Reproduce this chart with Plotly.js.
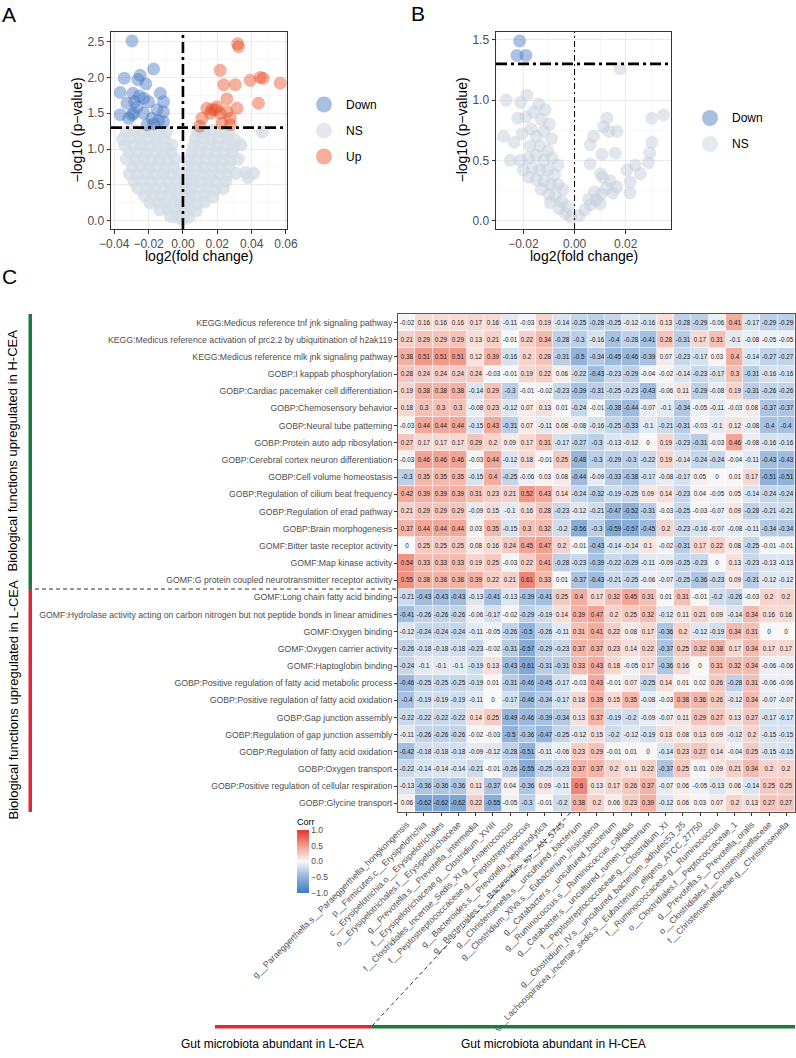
<!DOCTYPE html>
<html><head><meta charset="utf-8">
<script src="https://cdn.plot.ly/plotly-3.0.1.min.js"></script>
<style>html,body{margin:0;padding:0;background:#fff}#chart{width:796px;height:1058px}</style>
</head><body><div id="chart"></div>
<script>
// ---------------- DATA ----------------
// Panel A volcano
const aDownPts = [[-0.0297,2.51],[-0.0171,2.12],[-0.0249,2.03],[-0.0262,1.97],[-0.0342,1.99],[-0.0216,1.91],
 [-0.0365,1.79],[-0.0291,1.78],[-0.0132,1.78],[-0.0229,1.71],[-0.0255,1.74],[-0.0282,1.66],[-0.0326,1.64],
 [-0.0200,1.66],[-0.0113,1.66],[-0.0265,1.59],[-0.0151,1.55],[-0.0113,1.52],[-0.0365,1.48],[-0.0297,1.48],
 [-0.0287,1.50],[-0.0229,1.50],[-0.0316,1.43],[-0.0180,1.43],[-0.0141,1.40],[-0.0113,1.38],[-0.0209,1.34],[-0.0170,1.35]];
const aUpPts = [[0.0318,2.47],[0.0324,2.43],[0.0217,2.10],[0.0237,1.90],[0.0305,1.90],[0.0392,1.96],[0.0450,2.00],
 [0.0467,1.99],[0.0567,1.92],[0.0256,1.70],[0.0440,1.64],[0.0315,1.57],[0.0140,1.57],[0.0169,1.55],[0.0188,1.55],
 [0.0198,1.59],[0.0217,1.50],[0.0256,1.52],[0.0276,1.43],[0.0111,1.43],[0.0227,1.36],[0.0276,1.34],[0.0097,1.32],[0.0159,1.50]];
const aNsPts = [
 [-0.0330,1.24],[-0.0282,1.26],[-0.0232,1.23],[-0.0185,1.25],[-0.0138,1.22],[-0.0098,1.24],
 [-0.0352,1.14],[-0.0305,1.16],[-0.0255,1.13],[-0.0205,1.15],[-0.0155,1.12],[-0.0108,1.15],
 [-0.0338,1.05],[-0.0290,1.04],[-0.0240,1.06],[-0.0192,1.03],[-0.0145,1.05],[-0.0098,1.02],[-0.0065,1.06],
 [-0.0312,0.95],[-0.0262,0.96],[-0.0215,0.94],[-0.0165,0.96],[-0.0118,0.93],[-0.0070,0.95],
 [-0.0330,0.86],[-0.0280,0.84],[-0.0232,0.86],[-0.0182,0.83],[-0.0135,0.85],[-0.0088,0.84],[-0.0045,0.86],
 [-0.0295,0.75],[-0.0245,0.76],[-0.0195,0.74],[-0.0148,0.76],[-0.0100,0.73],[-0.0055,0.75],
 [-0.0312,0.65],[-0.0262,0.64],[-0.0212,0.66],[-0.0165,0.63],[-0.0115,0.65],[-0.0068,0.64],[-0.0025,0.66],
 [-0.0285,0.55],[-0.0235,0.56],[-0.0185,0.54],[-0.0135,0.56],[-0.0088,0.53],[-0.0040,0.55],
 [-0.0262,0.45],[-0.0212,0.46],[-0.0162,0.44],[-0.0115,0.46],[-0.0068,0.43],[-0.0025,0.45],
 [-0.0225,0.35],[-0.0175,0.36],[-0.0128,0.34],[-0.0080,0.36],[-0.0035,0.33],
 [-0.0192,0.25],[-0.0145,0.26],[-0.0098,0.24],[-0.0052,0.26],[-0.0015,0.23],
 [-0.0135,0.15],[-0.0088,0.16],[-0.0045,0.14],[-0.0012,0.16],
 [-0.0072,0.06],[-0.0035,0.05],[-0.0008,0.07],[-0.0004,0.01],
 [0.0085,1.25],[0.0125,1.23],[0.0172,1.26],[0.0220,1.24],[0.0268,1.22],
 [0.0072,1.14],[0.0112,1.16],[0.0160,1.13],[0.0208,1.15],[0.0258,1.14],[0.0305,1.12],
 [0.0062,1.05],[0.0102,1.03],[0.0150,1.06],[0.0198,1.04],[0.0248,1.05],[0.0295,1.03],[0.0338,1.06],
 [0.0052,0.95],[0.0092,0.96],[0.0140,0.94],[0.0190,0.96],[0.0240,0.93],[0.0288,0.95],
 [0.0042,0.85],[0.0082,0.84],[0.0130,0.86],[0.0180,0.83],[0.0230,0.85],[0.0278,0.84],[0.0322,0.86],
 [0.0032,0.75],[0.0072,0.76],[0.0120,0.74],[0.0170,0.76],[0.0220,0.73],[0.0268,0.75],
 [0.0025,0.65],[0.0062,0.64],[0.0110,0.66],[0.0160,0.63],[0.0210,0.65],[0.0258,0.64],[0.0308,0.66],[0.0365,0.67],[0.0412,0.66],
 [0.0020,0.55],[0.0058,0.56],[0.0102,0.54],[0.0150,0.56],[0.0198,0.53],[0.0248,0.55],[0.0378,0.60],
 [0.0015,0.45],[0.0050,0.46],[0.0092,0.44],[0.0140,0.46],[0.0188,0.43],[0.0235,0.45],
 [0.0012,0.35],[0.0042,0.36],[0.0082,0.34],[0.0128,0.36],[0.0175,0.33],
 [0.0010,0.25],[0.0040,0.26],[0.0080,0.24],[0.0125,0.26],
 [0.0008,0.15],[0.0038,0.16],[0.0078,0.14],
 [0.0006,0.06],[0.0035,0.05],[0.0462,1.24]];
// Panel B volcano
const bDownPts = [[-0.0215,1.49],[-0.0225,1.37],[-0.0190,1.37]];
const bNsPts = [
 [-0.0267,1.00],[-0.0186,1.04],[-0.0210,0.98],[-0.0141,0.97],[-0.0115,0.92],[-0.0160,0.90],[-0.0222,0.85],[-0.0190,0.86],[-0.0130,0.84],[-0.0098,0.80],
 [-0.0277,0.70],[-0.0236,0.65],[-0.0205,0.72],[-0.0170,0.76],[-0.0150,0.70],[-0.0120,0.74],[-0.0090,0.68],[-0.0175,0.62],[-0.0135,0.62],[-0.0105,0.58],
 [-0.0251,0.50],[-0.0212,0.50],[-0.0180,0.52],[-0.0150,0.54],[-0.0120,0.50],[-0.0088,0.52],[-0.0065,0.46],[-0.0200,0.42],[-0.0165,0.44],[-0.0135,0.42],[-0.0105,0.42],[-0.0078,0.38],
 [-0.0180,0.36],[-0.0150,0.34],[-0.0120,0.33],[-0.0092,0.30],[-0.0065,0.30],[-0.0045,0.26],[-0.0130,0.26],[-0.0100,0.22],[-0.0075,0.20],[-0.0050,0.16],[-0.0028,0.12],[-0.0095,0.15],[-0.0060,0.10],[-0.0035,0.06],[-0.0015,0.03],
 [0.0018,0.04],[0.0040,0.09],[0.0062,0.13],[0.0085,0.17],[0.0105,0.22],[0.0125,0.27],[0.0140,0.33],[0.0110,0.36],[0.0078,0.24],[0.0055,0.18],[0.0150,0.23],[0.0165,0.28],[0.0100,0.14],
 [0.0061,0.47],[0.0102,0.39],[0.0107,0.55],[0.0061,0.63],[0.0074,0.70],[0.0113,0.78],[0.0127,0.85],[0.0134,0.74],[0.0166,0.74],[0.0159,0.56],[0.0178,1.26],
 [0.0205,0.42],[0.0217,0.32],[0.0217,0.23],[0.0237,0.46],[0.0257,0.39],[0.0289,0.48],[0.0294,0.56],[0.0302,0.65],[0.0302,0.85],[0.0348,0.876]];

// Panel C heatmap
const rowLabels = [
 'KEGG:Medicus reference tnf jnk signaling pathway',
 'KEGG:Medicus reference activation of prc2.2 by ubiquitination of h2ak119',
 'KEGG:Medicus reference mlk jnk signaling pathway',
 'GOBP:I kappab phosphorylation',
 'GOBP:Cardiac pacemaker cell differentiation',
 'GOBP:Chemosensory behavior',
 'GOBP:Neural tube patterning',
 'GOBP:Protein auto adp ribosylation',
 'GOBP:Cerebral cortex neuron differentiation',
 'GOBP:Cell volume homeostasis',
 'GOBP:Regulation of cilium beat frequency',
 'GOBP:Regulation of erad pathway',
 'GOBP:Brain morphogenesis',
 'GOMF:Bitter taste receptor activity',
 'GOMF:Map kinase activity',
 'GOMF:G protein coupled neurotransmitter receptor activity',
 'GOMF:Long chain fatty acid binding',
 'GOMF:Hydrolase activity acting on carbon nitrogen but not peptide bonds in linear amidines',
 'GOMF:Oxygen binding',
 'GOMF:Oxygen carrier activity',
 'GOMF:Haptoglobin binding',
 'GOBP:Positive regulation of fatty acid metabolic process',
 'GOBP:Positive regulation of fatty acid oxidation',
 'GOBP:Gap junction assembly',
 'GOBP:Regulation of gap junction assembly',
 'GOBP:Regulation of fatty acid oxidation',
 'GOBP:Oxygen transport',
 'GOBP:Positive regulation of cellular respiration',
 'GOBP:Glycine transport'];
const colLabels = [
 'g__Paraeggerthella.s__Paraeggerthella_hongkongensis',
 'p__Firmicutes.c__Erysipelotrichia',
 'c__Erysipelotrichia.o__Erysipelotrichales',
 'o__Erysipelotrichales.f__Erysipelotrichaceae',
 'g__Prevotella.s__Prevotella_intermedia',
 'f__Erysipelotrichaceae.g__Clostridium_XVIII',
 'f__Clostridiales_Incertae_Sedis_XI.g__Anaerococcus',
 'f__Peptostreptococcaceae.g__Peptostreptococcus',
 'g__Bacteroides.s__Prevotella_heparinolytica',
 'g__Bacteroides.s__Bacteroides_sp__AN_5745',
 'g__Christensenella.s__uncultured_bacterium',
 'g__Clostridium_XlVa.s__Eubacterium_fissicatena',
 'g__Catabacter.s__uncultured_bacterium',
 'g__Ruminococcus.s__Ruminococcus_callidus',
 'g__Catabacter.s__uncultured_rumen_bacterium',
 'f__Peptostreptococcaceae.g__Clostridium_XI',
 'g__Clostridium_IV.s__uncultured_bacterium_adhufec53_25',
 'g__Lachnospiracea_incertae_sedis.s__Eubacterium_eligens_ATCC_27750',
 'f__Ruminococcaceae.g__Ruminococcus',
 'o__Clostridiales.f__Peptococcaceae_1',
 'g__Prevotella.s__Prevotella_oralis',
 'o__Clostridiales.f__Christensenellaceae',
 'f__Christensenellaceae.g__Christensenella'];
// correlations, functions upregulated in H-CEA (rows 1-16)
const corrH = [
 [-0.02,0.16,0.16,0.16,0.17,0.16,-0.11,-0.03,0.19,-0.14,-0.25,-0.28,-0.25,-0.12,-0.16,0.13,-0.28,-0.29,-0.06,0.41,-0.17,-0.29,-0.29],
 [0.21,0.29,0.29,0.29,0.13,0.21,-0.01,0.22,0.34,-0.28,-0.3,-0.16,-0.4,-0.28,-0.41,0.28,-0.31,0.17,0.31,-0.1,-0.08,-0.05,-0.05],
 [0.38,0.51,0.51,0.51,0.12,0.39,-0.16,0.2,0.28,-0.31,-0.5,-0.34,-0.45,-0.46,-0.39,0.07,-0.23,-0.17,0.03,0.4,-0.14,-0.27,-0.27],
 [0.28,0.24,0.24,0.24,0.24,-0.03,-0.01,0.19,0.22,0.06,-0.22,-0.43,-0.23,-0.29,-0.04,-0.02,-0.14,-0.23,-0.17,0.3,-0.31,-0.16,-0.16],
 [0.19,0.38,0.38,0.38,-0.14,0.29,-0.3,-0.01,-0.02,-0.23,-0.39,-0.31,-0.25,-0.23,-0.43,-0.06,0.11,-0.29,-0.08,0.19,-0.31,-0.26,-0.26],
 [0.18,0.3,0.3,0.3,-0.08,0.23,-0.12,0.07,0.13,0.01,-0.24,-0.01,-0.38,-0.44,-0.07,-0.1,-0.34,-0.05,-0.11,-0.03,0.08,-0.37,-0.37],
 [-0.03,0.44,0.44,0.44,-0.15,0.43,-0.31,0.07,-0.11,0.08,-0.08,-0.16,-0.25,-0.33,-0.1,-0.21,-0.31,-0.03,-0.1,0.12,-0.08,-0.4,-0.4],
 [0.27,0.17,0.17,0.17,0.29,0.2,0.09,0.17,0.31,-0.17,-0.27,-0.3,-0.13,-0.12,0,0.19,-0.23,-0.31,-0.03,0.46,-0.08,-0.16,-0.16],
 [-0.03,0.46,0.46,0.46,-0.03,0.44,-0.12,0.18,-0.01,0.25,-0.48,-0.3,-0.29,-0.3,-0.22,0.19,-0.14,-0.24,-0.24,-0.04,-0.11,-0.43,-0.43],
 [-0.3,0.35,0.35,0.35,-0.15,0.4,-0.25,-0.06,0.03,0.08,-0.44,-0.09,-0.33,-0.38,-0.17,-0.08,-0.17,0.05,0,0.01,0.17,-0.51,-0.51],
 [0.42,0.39,0.39,0.39,0.31,0.23,0.21,0.52,0.43,0.14,-0.24,-0.32,-0.19,-0.25,0.09,0.14,-0.23,0.04,-0.05,0.05,-0.14,-0.24,-0.24],
 [0.21,0.29,0.29,0.29,-0.09,0.15,-0.1,0.16,0.28,-0.23,-0.12,-0.21,-0.47,-0.52,-0.31,-0.03,-0.25,-0.03,-0.07,0.09,-0.28,-0.21,-0.21],
 [0.37,0.44,0.44,0.44,0.03,0.35,-0.15,0.3,0.32,-0.2,-0.56,-0.3,-0.59,-0.57,-0.45,0.2,-0.23,-0.16,-0.07,-0.08,-0.11,-0.34,-0.34],
 [0,0.25,0.25,0.25,0.08,0.16,0.24,0.45,0.47,0.2,-0.01,-0.43,-0.14,-0.14,0.1,-0.02,-0.31,0.17,0.22,0.08,-0.25,-0.01,-0.01],
 [0.54,0.33,0.33,0.33,0.19,0.25,-0.03,0.22,0.41,-0.28,-0.23,-0.39,-0.22,-0.29,-0.11,-0.09,-0.25,-0.23,0,0.13,-0.23,-0.13,-0.13],
 [0.55,0.38,0.38,0.38,0.39,0.22,0.21,0.61,0.33,0.01,-0.37,-0.43,-0.21,-0.25,-0.06,-0.07,-0.25,-0.36,-0.23,0.09,-0.31,-0.12,-0.12]];
// correlations, functions upregulated in L-CEA (rows 17-29)
const corrL = [
 [-0.21,-0.43,-0.43,-0.43,-0.13,-0.41,-0.13,-0.39,-0.41,0.25,0.4,0.17,0.32,0.45,0.31,0.01,0.31,-0.01,-0.2,-0.26,-0.03,0.2,0.2],
 [-0.41,-0.26,-0.26,-0.26,-0.06,-0.17,-0.02,-0.29,-0.19,0.14,0.39,0.47,0.2,0.25,0.32,-0.12,0.11,0.21,0.09,-0.14,0.34,0.16,0.16],
 [-0.12,-0.24,-0.24,-0.24,-0.11,-0.05,-0.26,-0.5,-0.26,-0.11,0.31,0.41,0.22,0.08,0.17,-0.36,0.2,-0.12,-0.19,0.34,0.31,0,0],
 [-0.26,-0.18,-0.18,-0.18,-0.23,-0.02,-0.31,-0.57,-0.29,-0.23,0.37,0.37,0.23,0.14,0.22,-0.37,0.25,0.32,0.38,0.17,0.34,0.17,0.17],
 [-0.24,-0.1,-0.1,-0.1,-0.19,0.13,-0.43,-0.61,-0.31,-0.31,0.33,0.43,0.18,-0.05,0.17,-0.36,0.16,0,0.31,0.32,0.34,-0.06,-0.06],
 [-0.46,-0.25,-0.25,-0.25,-0.19,0.01,-0.31,-0.46,-0.45,-0.17,-0.03,0.43,-0.01,0.07,-0.25,0.14,0.01,0.02,0.26,-0.28,0.31,-0.06,-0.06],
 [-0.4,-0.19,-0.19,-0.19,-0.11,0,-0.17,-0.46,-0.34,-0.17,0.18,0.39,0.15,0.35,-0.08,-0.03,0.38,0.36,0.26,-0.12,0.34,-0.07,-0.07],
 [-0.22,-0.22,-0.22,-0.22,0.14,0.25,-0.49,-0.46,-0.39,-0.34,0.13,0.37,-0.19,-0.2,-0.09,-0.07,0.11,0.29,0.27,0.13,0.27,-0.17,-0.17],
 [-0.11,-0.26,-0.26,-0.26,-0.02,-0.03,-0.5,-0.36,-0.47,-0.25,-0.12,0.15,-0.2,-0.12,-0.19,0.13,0.08,0.13,0.09,-0.12,0.2,-0.15,-0.15],
 [-0.42,-0.18,-0.18,-0.18,-0.09,-0.12,-0.28,-0.51,-0.11,-0.06,0.23,0.29,-0.01,0.01,0,-0.14,0.23,0.27,0.14,-0.04,0.25,-0.15,-0.15],
 [-0.22,-0.14,-0.14,-0.14,-0.21,-0.01,-0.26,-0.55,-0.25,-0.23,0.37,0.37,0.2,0.11,0.22,-0.37,0.25,0.01,0.09,0.21,0.34,0.2,0.2],
 [-0.13,-0.36,-0.36,-0.36,0.11,-0.37,0.04,-0.36,0.09,-0.11,0.6,0.13,0.17,0.26,0.37,-0.07,0.06,-0.05,-0.13,0.06,-0.14,0.25,0.25],
 [0.06,-0.62,-0.62,-0.62,0.22,-0.55,-0.05,-0.3,-0.01,-0.2,0.38,0.2,0.06,0.23,0.39,-0.12,0.06,0.03,0.07,0.2,0.13,0.27,0.27]];
const legendA = ['Down','NS','Up'];
const legendB = ['Down','NS'];

// ---------------- LAYOUT HELPERS ----------------
const W = 796, H = 1058;
const px = x => x / W, py = y => 1 - y / H;
const FONT = 'Liberation Sans, Arial, Helvetica, sans-serif';
const GREY = '#4d4d4d';
const colNSa = 'rgb(212,221,230)', colNS = 'rgb(195,207,219)', colDown = 'rgb(70,120,195)', colUp = 'rgb(232,80,40)';

function pts(arr, i) { return arr.map(p => p[i]); }
function scat(arr, color, op, xa, ya) {
  return {type:'scatter', mode:'markers', x:pts(arr,0), y:pts(arr,1), xaxis:xa, yaxis:ya,
    marker:{size:13, color:color, opacity:op, line:{width:0}}, hoverinfo:'skip', showlegend:false};
}

const z = corrH.concat(corrL);
const txt = z.map(r => r.map(v => String(v)));

const traces = [
  scat(aNsPts, colNSa, 0.8, 'x', 'y'),
  scat(aDownPts, colDown, 0.45, 'x', 'y'),
  scat(aUpPts, colUp, 0.45, 'x', 'y'),
  scat(bNsPts, colNS, 0.5, 'x2', 'y2'),
  scat(bDownPts, colDown, 0.45, 'x2', 'y2'),
  {type:'heatmap', z:z, x:colLabels, y:rowLabels, text:txt, texttemplate:'%{text}',
   textfont:{size:6.3, color:'#222', family:FONT}, xaxis:'x3', yaxis:'y3',
   zmin:-1, zmax:1, xgap:0.6, ygap:0.6, hoverinfo:'skip',
   colorscale:[[0,'#3B7DC1'],[0.25,'#92B3DB'],[0.5,'#F8F8F8'],[0.75,'#F29C8C'],[1,'#E03530']],
   colorbar:{x:px(297), xanchor:'left', y:py(854), yanchor:'middle', len:78, lenmode:'pixels',
     thickness:12, thicknessmode:'pixels', outlinewidth:0, xpad:0, ypad:0,
     tickvals:[-1,-0.5,0,0.5,1], ticktext:['\u22121.0','\u22120.5','0.0','0.5','1.0'],
     ticks:'', tickfont:{size:8.5, color:GREY, family:FONT},
     title:{text:'Corr', side:'top', font:{size:9, color:'#000', family:FONT}}}}
];

function volcAxis(dom, range, dtick, minor, fmt) {
  return {domain:dom, range:range, tick0:0, dtick:dtick, tickformat:fmt, ticks:'outside', ticklen:3.5,
    tickcolor:'#333', tickwidth:1, tickfont:{size:12, color:GREY, family:FONT},
    showgrid:true, gridcolor:'#ebebeb', gridwidth:1, zeroline:false,
    minor:{tick0:0, dtick:minor, showgrid:true, gridcolor:'#f2f2f2', gridwidth:0.6, ticks:''},
    showline:true, mirror:true, linecolor:'#333', linewidth:1};
}

const shapes = [];
const annotations = [];
function ann(text, x, y, size, opts) {
  annotations.push(Object.assign({text:text, x:px(x), y:py(y), xref:'paper', yref:'paper', showarrow:false,
    font:{size:size, color:'#000', family:FONT}, xanchor:'center', yanchor:'middle'}, opts||{}));
}
function line(x0,y0,x1,y1,color,width,dash,xref,yref) {
  shapes.push({type:'line', xref:xref||'paper', yref:yref||'paper', x0:x0, y0:y0, x1:x1, y1:y1,
    line:{color:color, width:width, dash:dash||'solid'}});
}
function rect(x0,y0,x1,y1,color) {
  shapes.push({type:'rect', xref:'paper', yref:'paper', x0:px(x0), y0:py(y1), x1:px(x1), y1:py(y0),
    fillcolor:color, line:{width:0}});
}
function circle(cx,cy,r,color) {
  shapes.push({type:'circle', xref:'paper', yref:'paper', x0:px(cx-r), x1:px(cx+r), y0:py(cy+r), y1:py(cy-r),
    fillcolor:color, line:{width:0}});
}

// threshold lines
line(0,0,0,1,'#000',2.6,'11px,4px,3px,4px','x','y domain');
line(0,1.3,1,1.3,'#000',2.6,'11px,4px,3px,4px','x domain','y');
line(0,0,0,1,'#000',1,'6px,3px,2px,3px','x2','y2 domain');
line(0,1.3,1,1.3,'#000',2.6,'11px,4px,3px,4px','x2 domain','y2');

// legends
const legA = [['#a9bfe2',104.5],['#e4e9ef',130.5],['#f4ae99',156.5]];
legA.forEach((l,i) => { circle(324, l[1], 8, l[0]); ann(legendA[i], 344, l[1], 12, {xanchor:'left'}); });
const legB = [['#a9bfe2',118],['#e4e9ef',144]];
legB.forEach((l,i) => { circle(710, l[1], 8, l[0]); ann(legendB[i], 730, l[1], 12, {xanchor:'left'}); });

// axis titles
ann('log2(fold change)', 199, 256, 14);
ann('\u2212log10 (p\u2212value)', 76, 130.5, 14, {textangle:-90});
ann('log2(fold change)', 583.5, 256, 14);
ann('\u2212log10 (p\u2212value)', 461, 130.5, 14, {textangle:-90});
// panel letters
ann('A', 9, 14, 21);
ann('B', 418, 13, 21);
ann('C', 9, 276, 21);

// group bars and labels for panel C
rect(28.5, 314, 32, 589, '#1b7b3d');
rect(28.5, 589, 32, 812, '#e3263a');
line(px(35), py(589), px(398), py(589), '#333', 1, '4px,3px');
ann('Biological functions upregulated in H-CEA', 12.5, 451, 13, {textangle:-90});
ann('Biological functions upregulated in L-CEA', 12.5, 700, 13, {textangle:-90});
rect(215, 1025, 372, 1028.5, '#e3263a');
rect(372, 1025, 795, 1028.5, '#1b7b3d');
line(px(372), py(1026), px(570.6), py(812.5), '#333', 1, '4px,3px');
ann('Gut microbiota abundant in L-CEA', 272, 1044, 12);
ann('Gut microbiota abundant in H-CEA', 553, 1044, 12);

const layout = {
  width:W, height:H, margin:{l:0, r:0, t:0, b:0}, paper_bgcolor:'#fff', plot_bgcolor:'#fff',
  showlegend:false, font:{family:FONT},
  xaxis: volcAxis([px(111), px(287)], [-0.0419, 0.0606], 0.02, 0.01, '.2f'),
  yaxis: volcAxis([py(229), py(32)], [-0.116, 2.635], 0.5, 0.25, '.1f'),
  xaxis2: volcAxis([px(496), px(671)], [-0.0307, 0.0377], 0.02, 0.01, '.2f'),
  yaxis2: volcAxis([py(229), py(32)], [-0.069, 1.564], 0.5, 0.25, '.1f'),
  xaxis3: {domain:[px(398), px(795)], anchor:'y3', type:'category', tickmode:'array', tickvals:colLabels, ticktext:colLabels,
    tickangle:-45, ticks:'outside', ticklen:3, tickcolor:'#333', tickfont:{size:8.7, color:GREY, family:FONT},
    showline:true, mirror:true, linecolor:'#555', linewidth:1, showgrid:false, zeroline:false},
  yaxis3: {domain:[py(812), py(314)], anchor:'x3', type:'category', autorange:'reversed', tickmode:'array',
    tickvals:rowLabels, ticktext:rowLabels, ticks:'outside', ticklen:3, tickcolor:'#333',
    tickfont:{size:8.7, color:GREY, family:FONT}, showline:true, mirror:true, linecolor:'#555', linewidth:1,
    showgrid:false, zeroline:false},
  shapes:shapes, annotations:annotations
};
layout.xaxis.anchor = 'y'; layout.yaxis.anchor = 'x';
layout.xaxis2.anchor = 'y2'; layout.yaxis2.anchor = 'x2';

Plotly.newPlot('chart', traces, layout, {staticPlot:true, displayModeBar:false});
</script></body></html>
